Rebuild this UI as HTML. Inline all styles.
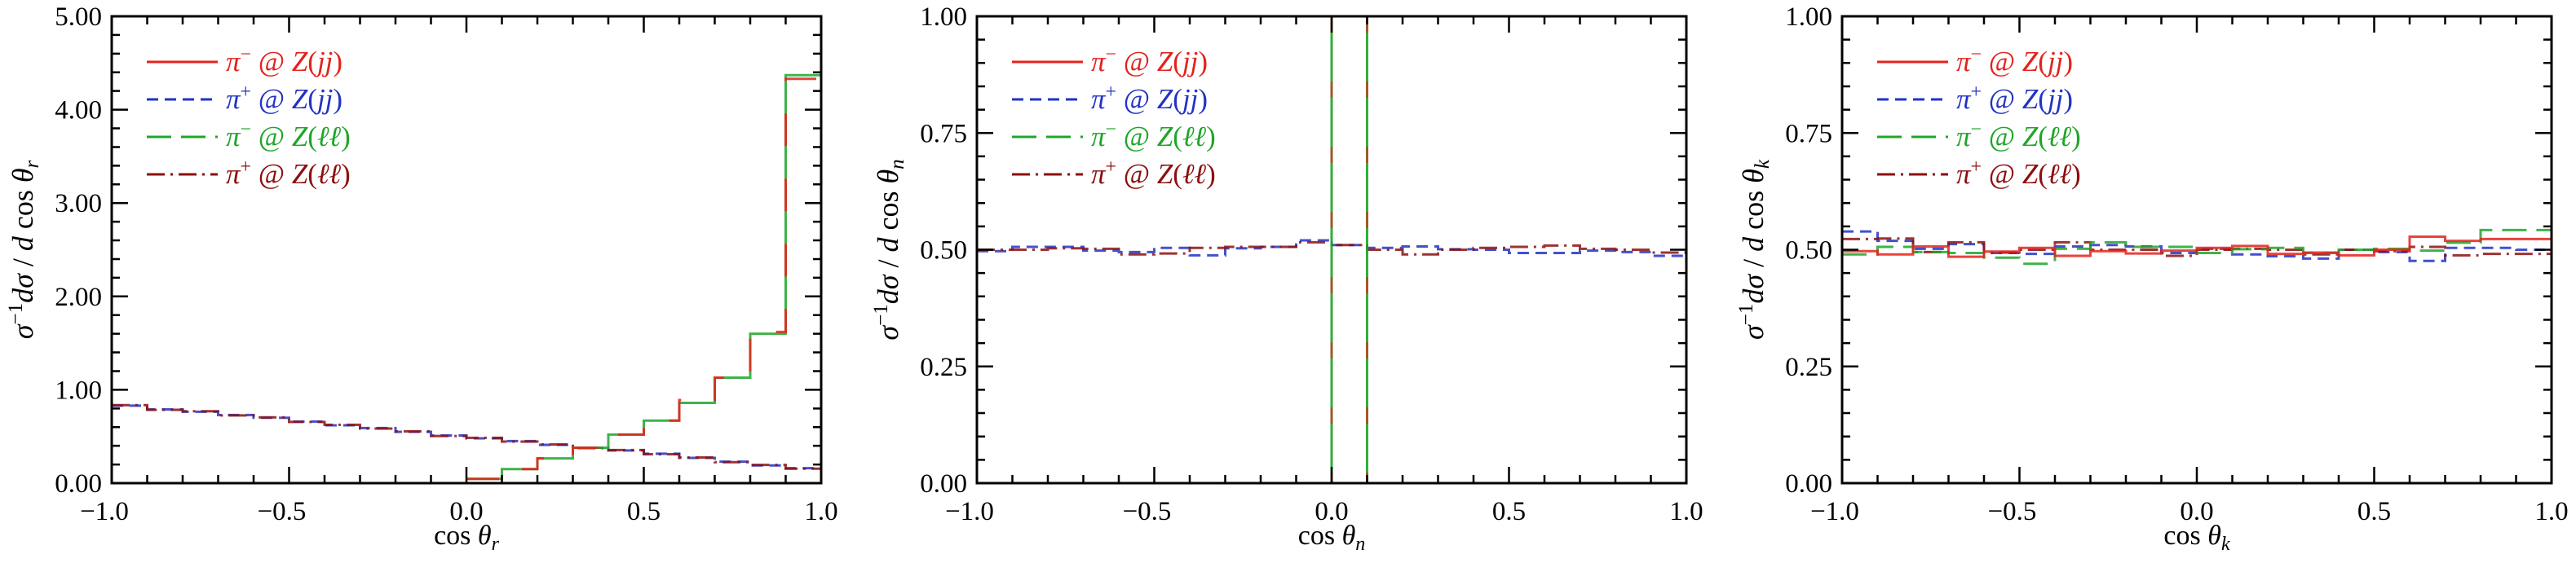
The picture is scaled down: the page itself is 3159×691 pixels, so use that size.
<!DOCTYPE html>
<html><head><meta charset="utf-8"><style>
html,body{margin:0;padding:0;background:#fff;}
svg{display:block;}
text{font-family:"Liberation Serif","DejaVu Serif",serif;fill:#000;}
</style></head><body>
<svg id="s" width="3159" height="691" viewBox="0 0 3159 691" xmlns="http://www.w3.org/2000/svg"></svg>
<script>
const S=document.getElementById('s');
const NS='http://www.w3.org/2000/svg';
function el(t,a,txt){const e=document.createElementNS(NS,t);for(const k in a)e.setAttribute(k,a[k]);if(txt!==undefined)e.innerHTML=txt;S.appendChild(e);return e;}
const T=20,B=593,W=870,H=573;
const lefts=[137,1198,2259];
const C={r:'#e3221c',b:'#2233c4',g:'#1fa52a',d:'#8c0f0f'};
const DASH={r:'',b:'14,8',g:'30,12',d:'22,7,3,7'};
function hist(x0,ymax,vals,col,dash){
  let d='';const bw=W/20;
  for(let i=0;i<20;i++){
    let v=vals[i];if(v===null)continue;
    let y=B-v/ymax*H; if(y<T)y=T-5;
    let xa=x0+i*bw,xb=xa+bw;
    let prev=i>0?vals[i-1]:null;
    let py=prev===null?null:Math.max(T-5,B-prev/ymax*H);
    if(py===null)d+=`M${xa},${y}`;else d+=`L${xa},${py}L${xa},${y}`;
    d+=`L${xb},${y}`;
  }
  el('path',{d:d,fill:'none',stroke:col,'stroke-width':3,'stroke-dasharray':dash,opacity:0.85});
}
function frame(x0,ymax,yMajor,yMinor,yfmt,xlab,ylab){
  let d='';
  for(let v=-1;v<=1.0001;v+=0.1){
    let x=x0+(v+1)/2*W;let maj=Math.abs(Math.round(v*10)%5)===0;let L=maj?20:10;
    d+=`M${x},${B}V${B-L}M${x},${T}V${T+L}`;
  }
  let n=Math.round(ymax/yMinor);
  for(let i=0;i<=n;i++){
    let v=i*yMinor;let y=B-v/ymax*H;let maj=Math.abs(v/yMajor-Math.round(v/yMajor))<1e-6;let L=maj?20:10;
    d+=`M${x0},${y}H${x0+L}M${x0+W},${y}H${x0+W-L}`;
    if(maj)el('text',{x:x0-12,y:y+11,'font-size':33,'text-anchor':'end'},yfmt(v));
  }
  el('path',{d:d,stroke:'#000','stroke-width':2.5,fill:'none'});
  el('rect',{x:x0,y:T,width:W,height:H,fill:'none',stroke:'#000','stroke-width':3});
  [-1,-0.5,0,0.5,1].forEach(v=>{
    let x=x0+(v+1)/2*W;let s=(v<0?'\u2212':'')+Math.abs(v).toFixed(1);
    el('text',{x:x-(v<0?9:0),y:638,'font-size':33,'text-anchor':'middle'},s);
  });
  el('text',{x:x0+W/2,y:668,'font-size':34,'text-anchor':'middle'},'cos <tspan font-style="italic">θ</tspan><tspan font-style="italic" font-size="24" dy="7">'+xlab+'</tspan>');
  el('text',{transform:`translate(${x0-97},${T+H/2}) rotate(-90)`,'font-size':36,'text-anchor':'middle'},
   '<tspan font-style="italic">σ</tspan><tspan font-size="25" dy="-13">−1</tspan><tspan dy="13" font-style="italic">dσ</tspan> / <tspan font-style="italic">d</tspan> cos <tspan font-style="italic">θ</tspan><tspan font-style="italic" font-size="25" dy="7">'+ylab+'</tspan>');
  const items=[['r','−','jj'],['b','+','jj'],['g','−','ℓℓ'],['d','+','ℓℓ']];
  items.forEach((it,i)=>{
    let y=76+i*46;
    el('path',{d:`M${x0+43},${y}H${x0+130}`,stroke:C[it[0]],'stroke-width':3,'stroke-dasharray':DASH[it[0]],fill:'none'});
    el('text',{x:x0+140,y:y+11,'font-size':35,style:'fill:'+C[it[0]]},
     '<tspan font-style="italic">π</tspan><tspan font-size="24" dy="-13">'+it[1]+'</tspan><tspan dy="13"> @ </tspan><tspan font-style="italic">Z</tspan>(<tspan font-style="italic">'+it[2]+'</tspan>)');
  });
}
const f2=v=>v.toFixed(2);
const p1m=[null,null,null,null,null,null,null,null,null,null,0.046,0.15,0.265,0.38,0.52,0.67,0.89,1.13,1.62,4.33];
const p1g=[null,null,null,null,null,null,null,null,null,null,0.046,0.15,0.265,0.38,0.52,0.67,0.86,1.13,1.60,4.37];
const p1p=[0.83,0.79,0.765,0.73,0.70,0.66,0.62,0.59,0.55,0.51,0.48,0.45,0.41,0.38,0.35,0.315,0.27,0.23,0.19,0.16];
const p1d=p1p.map((v,i)=>v-(i%2?0.005:-0.005));
let x0=lefts[0];
hist(x0,5,p1p,C.b,DASH.b);hist(x0,5,p1d,C.d,DASH.d);
hist(x0,5,p1g,C.g,'');hist(x0,5,p1m,C.r,'40,40');
frame(x0,5,1,0.2,f2,'r','r');
x0=lefts[1];
const p2b=[0.497,0.506,0.506,0.498,0.495,0.504,0.488,0.503,0.506,0.52,0.51,0.504,0.507,0.501,0.5,0.493,0.493,0.498,0.495,0.487];
const p2d=[0.5,0.5,0.503,0.502,0.49,0.492,0.504,0.506,0.506,0.516,0.51,0.5,0.49,0.5,0.504,0.506,0.509,0.502,0.5,0.494];
hist(x0,1,p2b,C.b,DASH.b);hist(x0,1,p2d,C.d,DASH.d);
[0,0.1].forEach(v=>{let x=x0+(v+1)/2*W;
 el('line',{x1:x,x2:x,y1:T,y2:B,stroke:C.g,'stroke-width':3,opacity:0.9});
 el('line',{x1:x,x2:x,y1:T,y2:B,stroke:C.r,'stroke-width':3,opacity:0.6,'stroke-dasharray':'20,60'});});
frame(x0,1,0.25,0.05,f2,'n','n');
x0=lefts[2];
const p3r=[0.497,0.49,0.507,0.485,0.496,0.504,0.487,0.497,0.492,0.498,0.504,0.508,0.491,0.494,0.488,0.5,0.528,0.519,0.523,0.523];
const p3g=[0.49,0.506,0.495,0.493,0.483,0.47,0.502,0.516,0.506,0.506,0.493,0.501,0.504,0.493,0.5,0.502,0.498,0.515,0.542,0.542];
const p3b=[0.539,0.519,0.502,0.512,0.493,0.491,0.507,0.51,0.507,0.493,0.502,0.49,0.486,0.481,0.5,0.495,0.476,0.504,0.504,0.5];
const p3d=[0.523,0.524,0.495,0.516,0.494,0.5,0.516,0.5,0.5,0.487,0.5,0.502,0.5,0.49,0.5,0.497,0.506,0.488,0.491,0.491];
hist(x0,1,p3b,C.b,DASH.b);hist(x0,1,p3d,C.d,DASH.d);hist(x0,1,p3g,C.g,DASH.g);hist(x0,1,p3r,C.r,DASH.r);
frame(x0,1,0.25,0.05,f2,'k','k');
</script>
</body></html>
